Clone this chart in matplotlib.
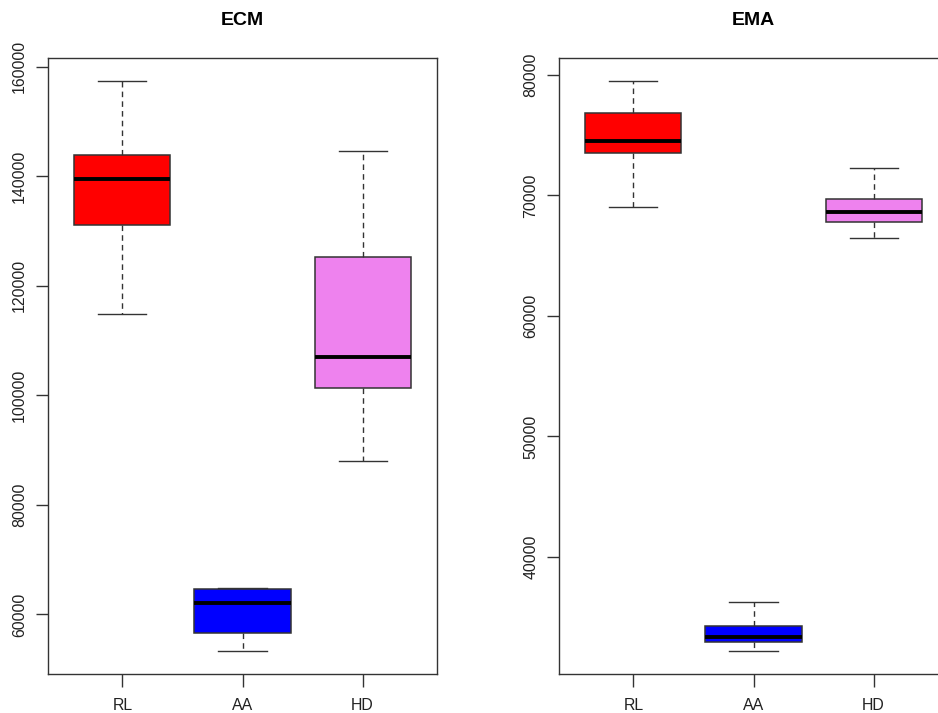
import matplotlib
matplotlib.use("Agg")
import matplotlib.pyplot as plt

plt.rcParams['font.family'] = ['Liberation Sans', 'DejaVu Sans']

categories = ["RL", "AA", "HD"]
colors = ["#FF0000", "#0000FF", "#EE82EE"]

# ECM five-number summaries
ecm_lo = [114800, 53300, 88050]
ecm_q1 = [131200, 56650, 101300]
ecm_med = [139450, 62050, 107050]
ecm_q3 = [143900, 64600, 125350]
ecm_hi = [157450, 64750, 144700]

# EMA five-number summaries
ema_lo = [69050, 32180, 66420]
ema_q1 = [73550, 32930, 67800]
ema_med = [74490, 33380, 68640]
ema_q3 = [76790, 34300, 69660]
ema_hi = [79500, 36260, 72270]

ecm_ticks = [60000, 80000, 100000, 120000, 140000, 160000]
ema_ticks = [40000, 50000, 60000, 70000, 80000]

W, H = 938, 713
fig = plt.figure(figsize=(W / 100, H / 100), dpi=100)

def make_ax(x0px):
    return fig.add_axes([x0px / W, 1 - 674 / H, 389 / W, 616 / H])

edge = "#333333"

def draw(ax, lo, q1, med, q3, hi, ticks, title):
    stats = []
    for i in range(len(categories)):
        stats.append(dict(whislo=lo[i], q1=q1[i], med=med[i], q3=q3[i],
                          whishi=hi[i], fliers=[], label=categories[i]))
    bp = ax.bxp(stats, positions=[1, 2, 3], widths=0.8, patch_artist=True,
                showfliers=False,
                boxprops=dict(edgecolor=edge, linewidth=1.1),
                medianprops=dict(color="black", linewidth=2.8, solid_capstyle="butt"),
                whiskerprops=dict(color=edge, linewidth=1.0, linestyle=(0, (4, 3))),
                capprops=dict(color=edge, linewidth=1.0),
                capwidths=0.4)
    for patch, c in zip(bp["boxes"], colors):
        patch.set_facecolor(c)
    vmin, vmax = min(lo), max(hi)
    r = vmax - vmin
    ax.set_ylim(vmin - 0.04 * r, vmax + 0.04 * r)
    ax.set_xlim(0.38, 3.62)
    ax.set_yticks(ticks)
    ax.set_yticklabels([str(t) for t in ticks], rotation=90, va="center")
    ax.set_xticks([1, 2, 3])
    ax.set_xticklabels(categories)
    ax.tick_params(axis="both", length=9, width=1.0, color=edge,
                   labelsize=11.4, labelcolor="#222222")
    ax.tick_params(axis="y", pad=6)
    ax.tick_params(axis="x", pad=8)
    for s in ax.spines.values():
        s.set_color(edge)
        s.set_linewidth(1.0)
    ax.set_title(title, fontsize=14, fontweight="bold", pad=24)

ax1 = make_ax(48)
draw(ax1, ecm_lo, ecm_q1, ecm_med, ecm_q3, ecm_hi, ecm_ticks, "ECM")
ax2 = make_ax(559)
draw(ax2, ema_lo, ema_q1, ema_med, ema_q3, ema_hi, ema_ticks, "EMA")

fig.savefig("out.png", dpi=100)
